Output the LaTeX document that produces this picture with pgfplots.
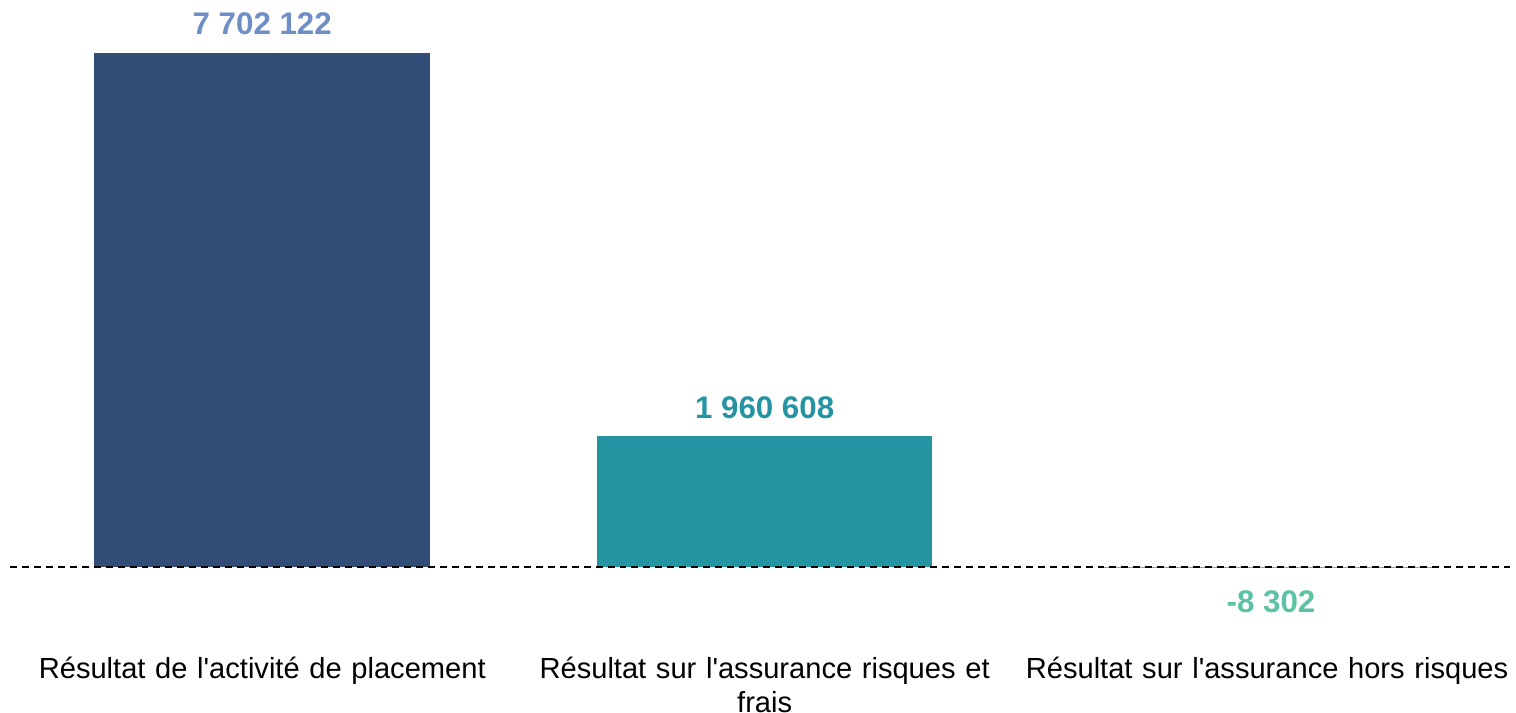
\documentclass[border=0pt]{standalone}
\usepackage{pgfplots}
\pgfplotsset{compat=1.18}
\usepackage{fontspec}
\setmainfont{Liberation Sans}[Ligatures=TeXOff]
\definecolor{barA}{HTML}{314C76}
\definecolor{labA}{HTML}{6E8EC6}
\definecolor{barB}{HTML}{2494A2}
\definecolor{barC}{HTML}{5CC2A4}
\begin{document}
\begin{tikzpicture}
\begin{axis}[
  scale only axis,
  width=758pt, height=325pt,
  xmin=-0.522, xmax=2.483,
  ymin=-1209000, ymax=8493000,
  axis line style={draw=none},
  major tick length=0pt,
  xtick={0,1,2},
  xticklabels={{Résultat de l'activité de placement},{Résultat sur l'assurance risques et\\frais},{Résultat sur l'assurance hors risques}},
  xticklabel style={text width=250pt, align=center, anchor=north, inner sep=0pt, yshift=-4.5pt, font=\fontsize{14.6}{17.3}\selectfont},
  ytick=\empty,
  bar width=168.5pt,
  ybar, bar shift=0pt,
  point meta=explicit symbolic,
  clip=false,
]
\path (axis cs:-0.522,8493000) rectangle (axis cs:2.483,-1209000);
\path (rel axis cs:0.5,0) ++(0,-35pt) coordinate (bb);
\path (bb) -- ++(1pt,0);
\addplot[fill=barA, draw=none, nodes near coords,
  every node near coord/.append style={anchor=base, yshift=9.5pt, text=labA, font=\fontsize{15.7}{18}\selectfont\bfseries, inner sep=0pt}]
  coordinates {(0,7702122) [7 702 122]};
\addplot[fill=barB, draw=none, nodes near coords,
  every node near coord/.append style={anchor=base, yshift=9pt, text=barB, font=\fontsize{15.7}{18}\selectfont\bfseries, inner sep=0pt}]
  coordinates {(1,1960608) [1 960 608]};
\addplot[fill=barC, draw=none, nodes near coords,
  every node near coord/.append style={anchor=base, yshift=-22.5pt, xshift=2pt, text=barC, font=\fontsize{15.7}{18}\selectfont\bfseries, inner sep=0pt}]
  coordinates {(2,-8302) [-8 302]};
\draw[black, line width=0.75pt, dash pattern=on 3.5pt off 2.5pt] (axis cs:-0.502,0) -- (axis cs:2.483,0);
\end{axis}
\end{tikzpicture}
\end{document}
